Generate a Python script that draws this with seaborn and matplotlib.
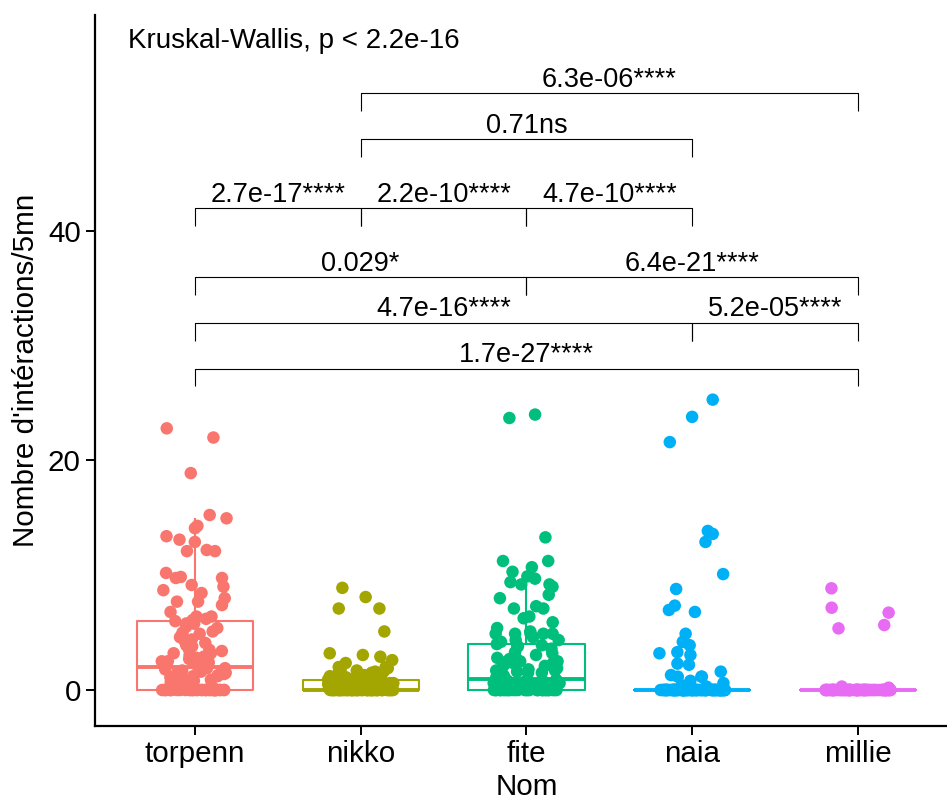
import numpy as np
import pandas as pd
import matplotlib
matplotlib.use("Agg")
import matplotlib.pyplot as plt
import seaborn as sns

# Values (points per dog)
noms = ['torpenn', 'nikko', 'fite', 'naia', 'millie']
couleurs = ['#F8766D', '#A3A500', '#00BF7D', '#00B0F6', '#E76BF3']

torpenn = [22.8, 22.0, 18.9, 15.25, 14.96, 14.3, 14.1, 13.4, 13.1, 12.9, 12.2, 12.1, 12.1,
           10.2, 9.85, 9.76, 9.76, 9.15, 9.0, 8.7, 8.45, 8.0, 7.7, 7.7, 7.4,
           6.8, 6.4, 6.4, 6.2, 6.1,
           6.0, 5.8, 5.8, 5.8, 5.5, 5.4, 5.1, 5.0, 4.9, 4.6, 4.4, 4.2, 4.1, 3.9, 3.8,
           3.5, 3.5, 3.4, 3.2, 3.2, 3.05, 3.0, 2.9, 2.8, 2.7, 2.5, 2.5, 2.4, 2.2, 2.1,
           1.9, 1.9, 1.8, 1.7, 1.6, 1.5, 1.5, 1.4, 1.3, 1.2, 1.2, 1.1, 1.0, 1.0,
           0.9, 0.8, 0.7, 0.6, 0.5, 0.5, 0.4, 0.3, 0.3, 0.2] + [0.0] * 36

nikko = [8.9, 8.1, 7.1, 7.1, 5.1, 3.2, 3.05, 2.9, 2.6, 2.35, 2.0, 2.0,
         1.9, 1.8, 1.7, 1.6, 1.6, 1.5, 1.5, 1.4, 1.3, 1.2, 1.2, 1.1, 1.0, 1.0, 0.9, 0.9,
         0.8, 0.8, 0.8, 0.8, 0.7, 0.7, 0.7, 0.7, 0.6, 0.6, 0.6, 0.5, 0.5, 0.5, 0.5,
         0.4, 0.4, 0.4, 0.3, 0.3, 0.3, 0.2, 0.2, 0.2, 0.1, 0.1] + [0.0] * 56

fite = [24.0, 23.7, 13.3, 11.24, 11.24, 10.7, 10.3, 9.9, 9.7, 9.4, 9.2, 9.2, 9.0,
        8.3, 8.0, 7.3, 7.1, 7.1, 6.4, 6.25, 5.9, 5.4, 5.1, 4.9, 4.9, 4.9, 4.9, 4.9,
        4.6, 4.35, 4.35, 4.2,
        4.0, 3.9, 3.8, 3.8, 3.6, 3.3, 3.2, 3.05, 2.9, 2.8, 2.7, 2.5, 2.5, 2.4, 2.35,
        2.35, 2.2, 2.1, 2.0, 1.9, 1.8, 1.7, 1.7, 1.6, 1.5, 1.5, 1.4, 1.3, 1.3, 1.2, 1.2, 1.1,
        0.9, 0.9, 0.8, 0.8, 0.8, 0.7, 0.7, 0.7, 0.6, 0.6, 0.6, 0.5, 0.5, 0.5,
        0.4, 0.4, 0.4, 0.3, 0.3, 0.3, 0.2, 0.2, 0.2, 0.1, 0.1, 0.1] + [0.0] * 38

naia = [25.3, 23.8, 21.6, 13.86, 13.6, 12.9, 10.1, 8.8, 7.35, 6.97, 6.8, 4.9, 4.2, 3.9,
        3.3, 3.2, 3.05, 2.3, 2.2, 1.6, 1.3, 1.16, 1.16, 1.16, 0.8, 0.6, 0.4, 0.3] + [0.0] * 92

millie = [8.86, 7.17, 6.74, 5.66, 5.37, 0.3, 0.2] + [0.0] * 72

# pairwise comparisons (group indices), bracket height, label
comp_pairs = [(0, 4), (0, 3), (3, 4), (0, 2), (2, 4), (0, 1), (1, 2), (2, 3), (1, 3), (1, 4)]
comp_y = [28, 32, 32, 36, 36, 42, 42, 42, 48, 52]
comp_labels = ['1.7e-27****', '4.7e-16****', '5.2e-05****', '0.029*', '6.4e-21****',
               '2.7e-17****', '2.2e-10****', '4.7e-10****', '0.71ns', '6.3e-06****']
kruskal_label = 'Kruskal-Wallis, p < 2.2e-16'

df = pd.DataFrame({
    'Nom': np.repeat(noms, [len(torpenn), len(nikko), len(fite), len(naia), len(millie)]),
    'valeur': torpenn + nikko + fite + naia + millie,
})

sns.set_style('white')
plt.rcParams['font.family'] = ['Liberation Sans', 'DejaVu Sans']
plt.rcParams['text.color'] = 'black'
plt.rcParams['axes.labelcolor'] = 'black'

fig = plt.figure(figsize=(9.47, 7.96), dpi=100)
ax = fig.add_axes([0.1007, 0.0879, 0.9105, 0.8933])

sns.boxplot(data=df, x='Nom', y='valeur', hue='Nom', order=noms, hue_order=noms,
            palette=couleurs, fill=False, width=0.7, linewidth=1.5, showfliers=False,
            capprops={'visible': False}, medianprops={'linewidth': 2.8},
            legend=False, ax=ax)

np.random.seed(7)
sns.stripplot(data=df, x='Nom', y='valeur', hue='Nom', order=noms, hue_order=noms,
              palette=couleurs, jitter=0.2, size=9, linewidth=0, legend=False,
              zorder=3, ax=ax)

# brackets with p-values
tip = 1.55
for (a, b), yb, lab in zip(comp_pairs, comp_y, comp_labels):
    ax.plot([a, a, b, b], [yb - tip, yb, yb, yb - tip], color='black', lw=0.8,
            solid_capstyle='butt', zorder=4)
    ax.text((a + b) / 2, yb + 0.55, lab, ha='center', va='baseline', fontsize=19.5,
            color='black')

ax.text(-0.404, 55.95, kruskal_label, ha='left', va='baseline', fontsize=20,
        color='black')

ax.set_xlim(-0.6, 4.6)
ax.set_ylim(-3.14, 58.82)
ax.set_yticks([0, 20, 40])
ax.set_xlabel('Nom', fontsize=21.3, labelpad=4)
ax.set_ylabel("Nombre d'intéractions/5mn", fontsize=21.3, labelpad=6)
ax.tick_params(axis='both', labelsize=21.3, length=6.5, width=1.4, color='black',
               labelcolor='black', left=True, bottom=True)
ax.tick_params(axis='y', pad=4)
ax.tick_params(axis='x', pad=3.5)
for side in ['top', 'right']:
    ax.spines[side].set_visible(False)
for side in ['left', 'bottom']:
    ax.spines[side].set_color('black')
    ax.spines[side].set_linewidth(1.6)

fig.savefig('out.png', dpi=100)
